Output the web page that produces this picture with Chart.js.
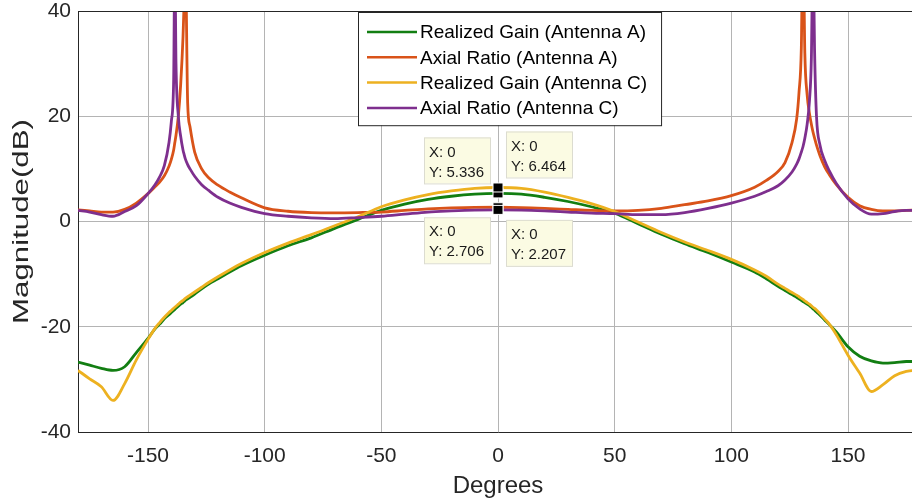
<!DOCTYPE html>
<html>
<head>
<meta charset="utf-8">
<script src="https://cdn.jsdelivr.net/npm/chart.js@4.4.0/dist/chart.umd.min.js"></script>
<style>
  html, body { margin: 0; padding: 0; background: #fff; overflow: hidden; }
  #wrap { position: relative; width: 920px; height: 503px; }
</style>
</head>
<body>
<div id="wrap"><canvas id="chart-lines"></canvas></div>
<script>
// data

var degrees = [
    -180, -175, -170, -165, -160, -155, -150, -147, -145, -143,
    -141, -140, -139, -138.5, -138, -137, -136, -135, -134.5, -134,
    -133, -132, -130, -127, -124, -120, -115, -110, -100, -90,
    -80, -70, -60, -50, -40, -30, -20, -10, 0, 10,
    20, 30, 40, 50, 60, 70, 80, 90, 100, 110,
    115, 120, 123, 126, 128, 129, 130, 130.7, 131.5, 132.5,
    133.5, 134.3, 135, 135.7, 136.5, 138, 140, 142, 145, 150,
    155, 160, 165, 170, 175, 180
];

var gainA = [
    -26.7, -27.3, -27.9, -28.3, -27.6, -24.9, -22.2, -20.4, -19.5, -18.5,
    -17.7, -17.3, -16.9, -16.7, -16.5, -16.1, -15.7, -15.4, -15.2, -15.0,
    -14.7, -14.4, -13.8, -12.8, -11.9, -10.9, -9.6, -8.4, -6.4, -4.6,
    -3.1, -1.3, 0.4, 2.1, 3.3, 4.2, 4.8, 5.2, 5.336, 5.2,
    4.6, 3.8, 2.8, 1.6, -0.4, -2.4, -4.2, -5.9, -7.7, -9.6,
    -10.9, -12.3, -13.1, -13.9, -14.4, -14.7, -15.0, -15.2, -15.4, -15.7,
    -16.0, -16.3, -16.6, -16.85, -17.2, -17.8, -18.7, -19.6, -21.0, -23.8,
    -25.6, -26.5, -26.9, -26.8, -26.6, -26.6
];

var ratioA = [
    2.2, 2.0, 1.8, 1.8, 2.3, 3.5, 5.3, 6.6, 7.5, 8.7,
    10.5, 11.8, 13.6, 15.0, 16.4, 20, 26, 35, 42, 50,
    22.5, 18, 13.2, 10.0, 8.3, 6.9, 5.6, 4.5, 2.6, 1.95,
    1.7, 1.65, 1.7, 1.8, 2.1, 2.4, 2.6, 2.7, 2.706, 2.65,
    2.5, 2.3, 2.1, 2.0, 2.1, 2.5, 3.2, 3.9, 4.9, 6.5,
    7.8, 9.5, 11.2, 15.0, 19.5, 24.5, 33, 55, 32, 24,
    20.5, 18.5, 17, 15.8, 14.5, 12.5, 10.4, 8.9, 7.0, 4.6,
    3.0, 2.3, 2.0, 2.0, 2.1, 2.2
];

var gainC = [
    -28.3, -29.9, -31.4, -34.0, -30.8, -26.3, -22.4, -20.3, -19.2, -18.2,
    -17.3, -16.9, -16.5, -16.3, -16.1, -15.7, -15.3, -15.0, -14.8, -14.6,
    -14.3, -14.0, -13.4, -12.5, -11.6, -10.5, -9.2, -8.0, -5.9, -4.1,
    -2.5, -0.8, 0.9, 2.8, 4.1, 5.1, 5.8, 6.3, 6.464, 6.3,
    5.6, 4.6, 3.4, 1.9, -0.1, -2.1, -3.9, -5.5, -7.2, -9.2,
    -10.4, -11.9, -12.7, -13.5, -14.0, -14.3, -14.6, -14.8, -15.1, -15.4,
    -15.7, -16.0, -16.3, -16.5, -16.8, -17.5, -18.5, -19.5, -21.5, -25.4,
    -28.8, -32.3, -31.0, -29.3, -28.5, -28.2
];

var ratioC = [
    2.1, 1.8, 1.3, 1.0, 1.9, 3.0, 5.3, 7.0, 8.5, 10.6,
    15.0, 19.0, 27, 50, 30, 20, 16.2, 13.6, 12.7, 11.9,
    10.8, 10.0, 8.6, 7.0, 5.9, 4.6, 3.5, 2.7, 1.5, 1.0,
    0.7, 0.55, 0.75, 1.0, 1.4, 1.8, 2.0, 2.15, 2.207, 2.15,
    2.0, 1.8, 1.6, 1.5, 1.3, 1.3, 1.7, 2.5, 3.5, 4.8,
    5.7, 6.8, 7.9, 9.4, 10.9, 11.9, 13.2, 14.2, 15.8, 18.5,
    23, 31, 52, 32, 20, 14.5, 11.6, 9.6, 7.2, 4.3,
    2.4, 1.4, 1.5, 1.9, 2.1, 2.1
];

var seriesLabels = [
    "Realized Gain (Antenna A)",
    "Axial Ratio (Antenna A)",
    "Realized Gain (Antenna C)",
    "Axial Ratio (Antenna C)"
];
var seriesColors = ["#127e12", "#d95319", "#edb120", "#7e2f8e"];

var xTicks = [-150, -100, -50, 0, 50, 100, 150];
var yTicks = [-40, -20, 0, 20, 40];
var xTitle = "Degrees";
var yTitle = "Magnitude(dB)";

// data tips: value shown, and which corner the box sits in
var tipX = [0, 0, 0, 0];
var tipY = [5.336, 6.464, 2.706, 2.207];
var tipPlace = ["nw", "ne", "sw", "se"];

var FONT = "'Liberation Sans', Arial, Helvetica, sans-serif";
var INK = "#262626";

function pairs(values) {
    return degrees.map(function (d, i) { return { x: d, y: values[i] }; });
}

var seriesValues = [gainA, ratioA, gainC, ratioC];

var overlay = {
    id: "overlay",
    afterDatasetsDraw: function (chart) {
        var ctx = chart.ctx;
        var area = chart.chartArea;
        var xs = chart.scales.x;
        var ys = chart.scales.y;

        ctx.save();
        // top edge of the axes box
        ctx.strokeStyle = INK;
        ctx.lineWidth = 1;
        ctx.beginPath();
        ctx.moveTo(area.left, area.top + 0.5);
        ctx.lineTo(area.right, area.top + 0.5);
        ctx.stroke();

        // markers
        for (var i = 0; i < tipY.length; i++) {
            var px = xs.getPixelForValue(tipX[i]);
            var py = ys.getPixelForValue(tipY[i]);
            ctx.fillStyle = "#000";
            ctx.fillRect(px - 5, py - 4.5, 10, 9);
            ctx.strokeStyle = "#fff";
            ctx.strokeRect(px - 5, py - 4.5, 10, 9);
        }

        // boxes
        var w = 66, h = 46;
        ctx.font = "15px " + FONT;
        ctx.textBaseline = "middle";
        ctx.textAlign = "left";
        for (var j = 0; j < tipY.length; j++) {
            var qx = xs.getPixelForValue(tipX[j]);
            var qy = ys.getPixelForValue(tipY[j]);
            var bx = tipPlace[j].indexOf("w") >= 0 ? qx - 8 - w : qx + 8;
            var by = tipPlace[j].indexOf("n") >= 0 ? qy - 10 - h : qy + 10;
            ctx.fillStyle = "#fbfbe3";
            ctx.fillRect(bx, by, w, h);
            ctx.strokeStyle = "#dcdcd0";
            ctx.strokeRect(bx + 0.5, by + 0.5, w, h);
            ctx.fillStyle = "#1a1a1a";
            ctx.fillText("X: " + tipX[j], bx + 5, by + 15);
            ctx.fillText("Y: " + tipY[j].toFixed(3), bx + 5, by + 35);
        }
        ctx.restore();
    },
    afterDraw: function (chart) {
        var ctx = chart.ctx;
        var area = chart.chartArea;

        // y axis title, drawn long and narrow like the original
        ctx.save();
        ctx.translate(22, (area.top + area.bottom) / 2);
        ctx.rotate(-Math.PI / 2);
        ctx.scale(1.42, 1);
        ctx.font = "22px " + FONT;
        ctx.fillStyle = INK;
        ctx.textAlign = "center";
        ctx.textBaseline = "middle";
        ctx.fillText(yTitle, 0, 0);
        ctx.restore();

        // legend
        var left = 358, top = 12, row = 25.3;
        ctx.save();
        ctx.font = "19px " + FONT;
        var maxW = 0;
        seriesLabels.forEach(function (s) { maxW = Math.max(maxW, ctx.measureText(s).width); });
        var boxW = 62 + maxW + 14;
        var boxH = row * seriesLabels.length + 12;
        ctx.fillStyle = "#fff";
        ctx.fillRect(left, top, boxW, boxH);
        ctx.strokeStyle = INK;
        ctx.lineWidth = 1;
        ctx.strokeRect(left + 0.5, top + 0.5, boxW, boxH);
        ctx.textBaseline = "middle";
        ctx.textAlign = "left";
        seriesLabels.forEach(function (s, k) {
            var cy = top + 20 + k * row;
            ctx.strokeStyle = seriesColors[k];
            ctx.lineWidth = 2.5;
            ctx.beginPath();
            ctx.moveTo(left + 9, cy);
            ctx.lineTo(left + 59, cy);
            ctx.stroke();
            ctx.fillStyle = "#000";
            ctx.fillText(s, left + 62, cy + 1);
        });
        ctx.restore();
    }
};

var ctx1 = document.getElementById("chart-lines").getContext("2d");

new Chart(ctx1, {
    type: "line",
    data: {
        datasets: seriesValues.map(function (vals, i) {
            return {
                label: seriesLabels[i],
                data: pairs(vals),
                borderColor: seriesColors[i],
                backgroundColor: seriesColors[i],
                borderWidth: 2.8,
                pointRadius: 0,
                cubicInterpolationMode: "monotone",
                fill: false,
                order: seriesValues.length - i
            };
        })
    },
    options: {
        responsive: true,
        maintainAspectRatio: false,
        animation: false,
        layout: { padding: { left: 0, top: 11, right: 2, bottom: 0 } },
        plugins: {
            legend: { display: false },
            tooltip: { enabled: false }
        },
        scales: {
            x: {
                type: "linear",
                min: -180,
                max: 180,
                afterBuildTicks: function (scale) {
                    scale.ticks = xTicks.map(function (v) { return { value: v }; });
                },
                afterFit: function (scale) {
                    scale.height = 71;
                    scale.paddingLeft = 0;
                    scale.paddingRight = 0;
                },
                grid: { color: "#b4b4b4", drawTicks: false, lineWidth: 1 },
                border: { display: true, color: INK, width: 1 },
                ticks: {
                    color: INK,
                    padding: 12,
                    maxRotation: 0,
                    font: { family: FONT, size: 21 }
                },
                title: {
                    display: true,
                    text: xTitle,
                    color: INK,
                    font: { family: FONT, size: 24 },
                    padding: { top: 0, bottom: 2 }
                }
            },
            y: {
                type: "linear",
                min: -40,
                max: 40,
                afterBuildTicks: function (scale) {
                    scale.ticks = yTicks.map(function (v) { return { value: v }; });
                },
                afterFit: function (scale) {
                    scale.width = 78;
                    scale.paddingTop = 0;
                    scale.paddingBottom = 0;
                },
                grid: { color: "#b4b4b4", drawTicks: false, lineWidth: 1 },
                border: { display: true, color: INK, width: 1 },
                ticks: {
                    color: INK,
                    padding: 7,
                    font: { family: FONT, size: 21 }
                },
                title: { display: false, text: yTitle }
            }
        }
    },
    plugins: [overlay]
});
</script>
</body>
</html>
